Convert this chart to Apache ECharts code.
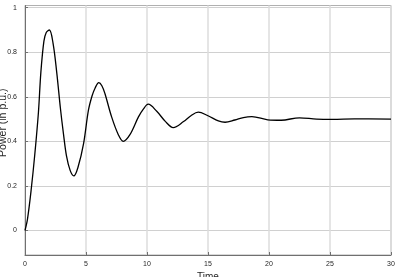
<!DOCTYPE html>
<html>
<head>
<meta charset="utf-8">
<script src="https://cdn.jsdelivr.net/npm/echarts@6/dist/echarts.min.js"></script>
<style>
  html, body { margin: 0; padding: 0; background: #fff; }
  #chart { width: 397px; height: 277px; }
</style>
</head>
<body>
<div id="chart"></div>
<script>
const timeValues = [0, 0.2, 0.5, 0.8, 1.1, 1.3, 1.55, 1.75, 2.0, 2.3, 2.6, 2.9, 3.15, 3.4, 3.7, 4.0, 4.35, 4.8, 5.2, 5.5, 5.75, 6.05, 6.3, 6.55, 7.1, 7.65, 8.05, 8.6, 9.3, 9.7, 10.1, 10.8, 11.5, 12.15, 13.0, 13.6, 14.2, 15.0, 15.85, 16.4, 17.2, 17.9, 18.6, 19.9, 21.0, 22.5, 23.9, 25.2, 27.0, 30.0];
const powerValues = [0, 0.05, 0.18, 0.34, 0.53, 0.71, 0.85, 0.89, 0.9, 0.84, 0.71, 0.55, 0.435, 0.335, 0.27, 0.245, 0.285, 0.39, 0.54, 0.605, 0.64, 0.664, 0.65, 0.615, 0.51, 0.43, 0.4, 0.43, 0.51, 0.545, 0.567, 0.535, 0.49, 0.462, 0.489, 0.515, 0.531, 0.515, 0.492, 0.486, 0.496, 0.507, 0.511, 0.497, 0.495, 0.506, 0.5, 0.499, 0.501, 0.5];
const yTicks = [0, 0.2, 0.4, 0.6, 0.8, 1];
const xTicks = [0, 5, 10, 15, 20, 25, 30];

const chart = echarts.init(document.getElementById('chart'), null, { renderer: 'canvas' });

const fontFamily = 'Liberation Sans, Arial, sans-serif';
const labelStyle = { color: '#262626', fontSize: 7, fontFamily };

chart.setOption({
  animation: false,
  backgroundColor: '#fff',
  grid: {
    left: 25, right: 6, top: 5.5, bottom: 22,
    outerBoundsMode: 'none', containLabel: false,
    show: true, borderColor: '#b0b0b0', borderWidth: 1
  },
  xAxis: {
    type: 'value', min: 0, max: 30,
    name: 'Time', nameLocation: 'middle', nameGap: 17, nameMoveOverlap: false,
    nameTextStyle: { color: '#262626', fontSize: 10, fontFamily },
    axisLine: { onZero: false, lineStyle: { color: '#707070', width: 1 } },
    axisTick: { inside: true, length: 3, customValues: xTicks, lineStyle: { color: '#707070' } },
    axisLabel: Object.assign({ margin: 6, customValues: xTicks }, labelStyle),
    splitLine: { show: true, lineStyle: { color: '#dcdcdc', width: 1.5 } }
  },
  yAxis: {
    type: 'value', min: -0.11, max: 1.01,
    name: 'Power (in p.u.)', nameLocation: 'middle', nameGap: 16, nameMoveOverlap: false,
    nameTextStyle: { color: '#262626', fontSize: 10.5, fontFamily, padding: [0, 0, 0, 15] },
    axisLine: { show: true, onZero: false, lineStyle: { color: '#707070', width: 1 } },
    axisTick: { show: true, inside: true, length: 3, customValues: yTicks, lineStyle: { color: '#707070' } },
    axisLabel: Object.assign({ margin: 8, customValues: yTicks }, labelStyle),
    splitLine: { show: true, lineStyle: { color: '#d0d0d0', width: 1 } }
  },
  series: [{
    type: 'line',
    data: timeValues.map((t, i) => [t, powerValues[i]]),
    smooth: 0.35,
    showSymbol: false,
    lineStyle: { color: '#000', width: 1.3 }
  }]
});
</script>
</body>
</html>
